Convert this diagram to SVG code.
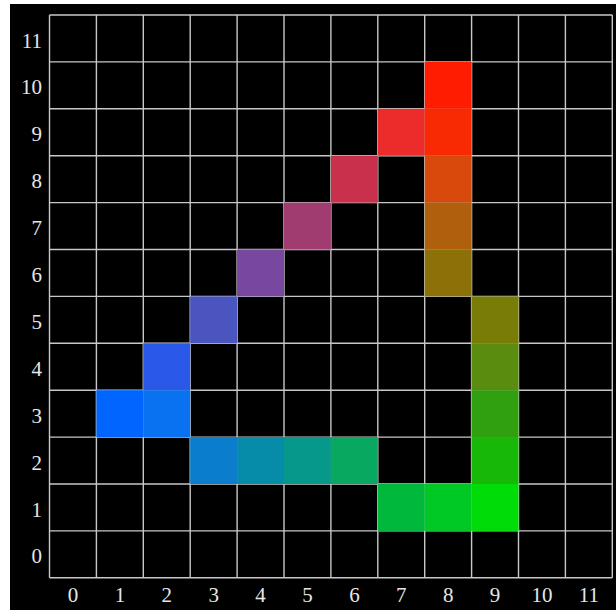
<svg xmlns="http://www.w3.org/2000/svg" width="616" height="610" viewBox="0 0 616 610">
<style>
.grid line{stroke:#c8c8c8;stroke-width:1.4}
.lbl{font-family:"Liberation Serif","DejaVu Serif",serif;font-size:21px;fill:#e6e6e6}
.rl{text-anchor:end}
.cl{text-anchor:middle}
</style>
<rect x="0" y="0" width="616" height="610" fill="#ffffff"/>
<rect x="10" y="4" width="606" height="606" fill="#000000"/>
<g id="grid" class="grid">
<line x1="49.5" y1="15" x2="49.5" y2="577.8"/>
<line x1="96.4" y1="15" x2="96.4" y2="577.8"/>
<line x1="143.3" y1="15" x2="143.3" y2="577.8"/>
<line x1="190.2" y1="15" x2="190.2" y2="577.8"/>
<line x1="237.1" y1="15" x2="237.1" y2="577.8"/>
<line x1="284" y1="15" x2="284" y2="577.8"/>
<line x1="330.9" y1="15" x2="330.9" y2="577.8"/>
<line x1="377.8" y1="15" x2="377.8" y2="577.8"/>
<line x1="424.7" y1="15" x2="424.7" y2="577.8"/>
<line x1="471.6" y1="15" x2="471.6" y2="577.8"/>
<line x1="518.5" y1="15" x2="518.5" y2="577.8"/>
<line x1="565.4" y1="15" x2="565.4" y2="577.8"/>
<line x1="612.3" y1="15" x2="612.3" y2="577.8"/>
<line x1="49.5" y1="15" x2="612.3" y2="15"/>
<line x1="49.5" y1="61.9" x2="612.3" y2="61.9"/>
<line x1="49.5" y1="108.8" x2="612.3" y2="108.8"/>
<line x1="49.5" y1="155.7" x2="612.3" y2="155.7"/>
<line x1="49.5" y1="202.6" x2="612.3" y2="202.6"/>
<line x1="49.5" y1="249.5" x2="612.3" y2="249.5"/>
<line x1="49.5" y1="296.4" x2="612.3" y2="296.4"/>
<line x1="49.5" y1="343.3" x2="612.3" y2="343.3"/>
<line x1="49.5" y1="390.2" x2="612.3" y2="390.2"/>
<line x1="49.5" y1="437.1" x2="612.3" y2="437.1"/>
<line x1="49.5" y1="484" x2="612.3" y2="484"/>
<line x1="49.5" y1="530.9" x2="612.3" y2="530.9"/>
<line x1="49.5" y1="577.8" x2="612.3" y2="577.8"/>
</g>
<g id="cells">
<rect x="424.7" y="61.9" width="46.9" height="46.9" fill="#ff1c00"/>
<rect x="377.8" y="108.8" width="46.9" height="46.9" fill="#ec2b2b"/>
<rect x="424.7" y="108.8" width="46.9" height="46.9" fill="#f72a04"/>
<rect x="330.9" y="155.7" width="46.9" height="46.9" fill="#c8304c"/>
<rect x="424.7" y="155.7" width="46.9" height="46.9" fill="#d84a0c"/>
<rect x="284" y="202.6" width="46.9" height="46.9" fill="#a03c70"/>
<rect x="424.7" y="202.6" width="46.9" height="46.9" fill="#b0600c"/>
<rect x="237.1" y="249.5" width="46.9" height="46.9" fill="#7848a0"/>
<rect x="424.7" y="249.5" width="46.9" height="46.9" fill="#8c7008"/>
<rect x="190.2" y="296.4" width="46.9" height="46.9" fill="#4a55c0"/>
<rect x="471.6" y="296.4" width="46.9" height="46.9" fill="#7a7c08"/>
<rect x="143.3" y="343.3" width="46.9" height="46.9" fill="#2a58e8"/>
<rect x="471.6" y="343.3" width="46.9" height="46.9" fill="#5a8c10"/>
<rect x="96.4" y="390.2" width="46.9" height="46.9" fill="#0066ff"/>
<rect x="143.3" y="390.2" width="46.9" height="46.9" fill="#0872f0"/>
<rect x="471.6" y="390.2" width="46.9" height="46.9" fill="#30a010"/>
<rect x="190.2" y="437.1" width="46.9" height="46.9" fill="#0a7ecc"/>
<rect x="237.1" y="437.1" width="46.9" height="46.9" fill="#068ca8"/>
<rect x="284" y="437.1" width="46.9" height="46.9" fill="#06988a"/>
<rect x="330.9" y="437.1" width="46.9" height="46.9" fill="#08a860"/>
<rect x="471.6" y="437.1" width="46.9" height="46.9" fill="#18b808"/>
<rect x="377.8" y="484" width="46.9" height="46.9" fill="#00b83c"/>
<rect x="424.7" y="484" width="46.9" height="46.9" fill="#00c824"/>
<rect x="471.6" y="484" width="46.9" height="46.9" fill="#00dc08"/>
</g>
<g id="row-labels" class="lbl rl">
<text x="42" y="47.5">11</text>
<text x="42" y="94.4">10</text>
<text x="42" y="141.3">9</text>
<text x="42" y="188.2">8</text>
<text x="42" y="235.1">7</text>
<text x="42" y="282">6</text>
<text x="42" y="328.9">5</text>
<text x="42" y="375.8">4</text>
<text x="42" y="422.7">3</text>
<text x="42" y="469.6">2</text>
<text x="42" y="516.5">1</text>
<text x="42" y="563.4">0</text>
</g>
<g id="col-labels" class="lbl cl">
<text x="73" y="602">0</text>
<text x="119.9" y="602">1</text>
<text x="166.8" y="602">2</text>
<text x="213.7" y="602">3</text>
<text x="260.6" y="602">4</text>
<text x="307.5" y="602">5</text>
<text x="354.4" y="602">6</text>
<text x="401.3" y="602">7</text>
<text x="448.2" y="602">8</text>
<text x="495.1" y="602">9</text>
<text x="542" y="602">10</text>
<text x="588.9" y="602">11</text>
</g>
</svg>
